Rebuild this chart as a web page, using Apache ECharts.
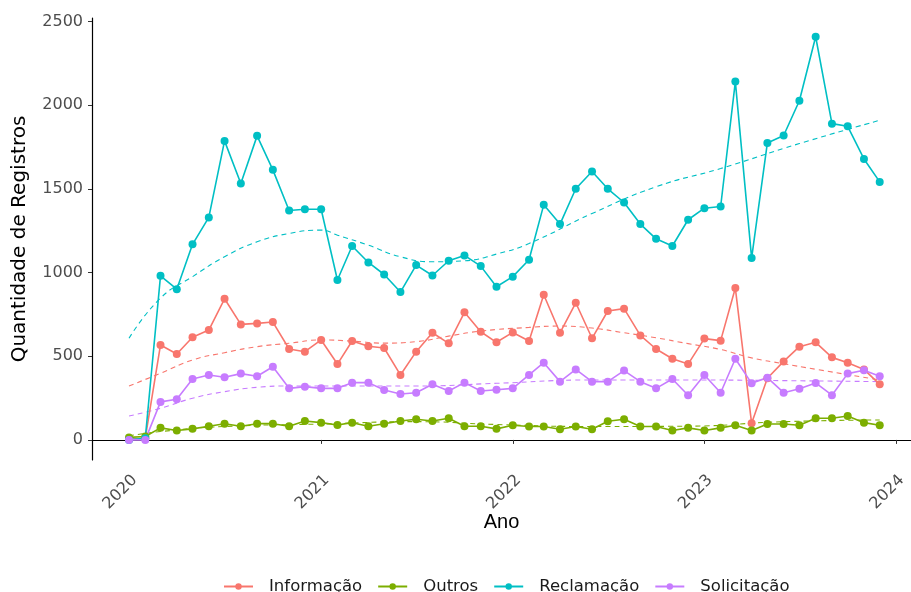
<!DOCTYPE html>
<html>
<head>
<meta charset="utf-8">
<script src="https://cdn.jsdelivr.net/npm/echarts@6/dist/echarts.min.js"></script>
<style>
html, body { margin: 0; padding: 0; background: #fff; }
#chart { width: 911px; height: 592px; }
</style>
</head>
<body>
<div id="chart"></div>
<script>
// meses: jan/2020 .. dez/2023 (timestamps UTC)
var meses = [];
for (var a = 2020; a <= 2023; a++) {
    for (var m = 0; m < 12; m++) {
        meses.push(Date.UTC(a, m, 1));
    }
}

var informacao = [5, 10, 567, 513, 613, 656, 843, 690, 696, 704, 543, 527,
    597, 453, 591, 559, 549, 388, 527, 640, 577, 762, 646, 583,
    642, 591, 867, 640, 819, 607, 770, 784, 624, 543, 485, 453,
    605, 593, 907, 99, 368, 469, 557, 583, 493, 461, 421, 332];
var outros = [15, 20, 72, 56, 66, 82, 97, 82, 97, 97, 82, 113,
    103, 89, 103, 82, 97, 113, 123, 113, 129, 82, 82, 66,
    88, 80, 80, 64, 80, 64, 111, 123, 80, 80, 56, 72,
    56, 72, 88, 56, 95, 95, 88, 129, 129, 143, 103, 88];
var reclamacao = [0, 10, 980, 900, 1168, 1329, 1786, 1532, 1816, 1613, 1370, 1378,
    1378, 955, 1158, 1060, 988, 883, 1044, 982, 1070, 1102, 1038, 915,
    975, 1076, 1404, 1289, 1500, 1603, 1500, 1418, 1289, 1201, 1158, 1315,
    1384, 1394, 2140, 1086, 1774, 1818, 2026, 2408, 1889, 1873, 1678, 1541];
var solicitacao = [0, 0, 227, 243, 364, 388, 374, 396, 380, 437, 308, 318,
    308, 308, 342, 342, 298, 274, 282, 332, 292, 342, 292, 300,
    308, 388, 461, 348, 421, 348, 348, 414, 348, 308, 364, 267,
    388, 282, 485, 338, 372, 282, 306, 340, 267, 396, 416, 380];

// tendencias (loess): indice do mes e valor
var tendInfoIdx = [0, 2, 4, 6, 8, 10, 12, 14, 16, 18, 20, 22, 25, 27, 29, 31, 33, 35, 37, 39, 41, 43, 47];
var tendInfo = [322, 398, 477, 521, 557, 577, 597, 590, 578, 587, 620, 650, 672, 680, 668, 640, 610, 575, 540, 490, 455, 422, 358];
var tendOutrosIdx = [0, 2, 6, 12, 18, 23, 29, 35, 41, 47];
var tendOutros = [24, 50, 80, 95, 109, 92, 80, 82, 109, 119];
var tendReclIdx = [0, 2, 4, 6, 8, 10, 12, 13, 15, 17, 19, 21, 23, 25, 29, 33, 37, 42, 47];
var tendRecl = [607, 847, 975, 1094, 1183, 1233, 1253, 1223, 1163, 1094, 1064, 1070, 1110, 1173, 1352, 1512, 1621, 1770, 1909];
var tendSolIdx = [0, 2, 4, 6, 8, 10, 13, 18, 23, 29, 35, 41, 47];
var tendSol = [143, 189, 249, 288, 314, 322, 322, 322, 338, 358, 358, 354, 348];

var anos = [2020, 2021, 2022, 2023, 2024];
var yTicks = [0, 500, 1000, 1500, 2000, 2500];
var nomes = ['Informação', 'Outros', 'Reclamação', 'Solicitação'];
var cores = ['#F8766D', '#7CAE00', '#00BFC4', '#C77CFF'];

var anoTicks = anos.map(function (y) { return Date.UTC(y, 0, 1); });
var DIA = 86400000;
var fonte = 'DejaVu Sans';

function pares(vals) {
    return vals.map(function (v, i) { return [meses[i], v]; });
}
function paresTend(idx, vals) {
    return idx.map(function (k, i) { return [meses[k], vals[i]]; });
}

var series = [];
var dados = [informacao, outros, reclamacao, solicitacao];
var tendencias = [[tendInfoIdx, tendInfo], [tendOutrosIdx, tendOutros], [tendReclIdx, tendRecl], [tendSolIdx, tendSol]];
for (var i = 0; i < 4; i++) {
    series.push({
        name: nomes[i] + ' tendencia',
        type: 'line',
        smooth: 0.5,
        symbol: 'none',
        silent: true,
        data: paresTend(tendencias[i][0], tendencias[i][1]),
        lineStyle: { color: cores[i], width: 1.1, type: [5, 4] },
        itemStyle: { color: cores[i] },
        z: 1
    });
}
for (var j = 0; j < 4; j++) {
    series.push({
        name: nomes[j],
        type: 'line',
        symbol: 'circle',
        symbolSize: 8,
        data: pares(dados[j]),
        lineStyle: { color: cores[j], width: 1.6 },
        itemStyle: { color: cores[j] },
        z: 2
    });
}

var myChart = echarts.init(document.getElementById('chart'));
var option = {
    animation: false,
    grid: { left: 92, right: 0, top: 18, bottom: 132 },
    legend: {
        data: nomes,
        top: 573,
        left: 218,
        itemWidth: 29,
        itemHeight: 8,
        itemGap: 15,
        textStyle: { color: '#1a1a1a', fontSize: 16.5, fontFamily: fonte, padding: [0, 0, 0, 11] }
    },
    xAxis: {
        type: 'value',
        min: Date.UTC(2020, 0, 1) - 70.5 * DIA,
        max: Date.UTC(2024, 0, 1) + 28.6 * DIA,
        name: 'Ano',
        nameLocation: 'middle',
        nameGap: 52,
        nameMoveOverlap: false,
        nameTextStyle: { color: '#000', fontSize: 20, fontFamily: 'Liberation Sans' },
        axisLine: { lineStyle: { color: '#000', width: 1.2 } },
        axisTick: { show: true, length: 4, lineStyle: { color: '#333' }, customValues: anoTicks },
        axisLabel: {
            rotate: 45,
            verticalAlign: 'top',
            color: '#4d4d4d',
            fontSize: 16,
            fontFamily: fonte,
            margin: 12,
            customValues: anoTicks,
            formatter: function (v) { return new Date(v).getUTCFullYear() + ''; }
        },
        splitLine: { show: false }
    },
    yAxis: {
        type: 'value',
        min: -120,
        max: 2520,
        name: 'Quantidade de Registros',
        nameLocation: 'middle',
        nameGap: 62,
        nameTextStyle: { color: '#000', fontSize: 20, fontFamily: fonte },
        axisLine: { show: true, lineStyle: { color: '#000', width: 1.2 } },
        axisTick: { show: true, length: 4, lineStyle: { color: '#333' }, customValues: yTicks },
        axisLabel: {
            color: '#4d4d4d', fontSize: 16, fontFamily: fonte, margin: 9, customValues: yTicks,
            formatter: function (v) { return String(v); }
        },
        splitLine: { show: false }
    },
    series: series
};
myChart.setOption(option);
</script>
</body>
</html>
